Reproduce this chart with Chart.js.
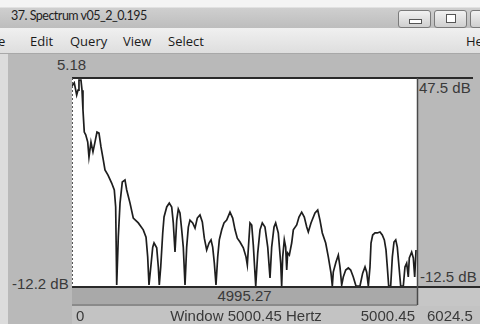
<!DOCTYPE html>
<html>
<head>
<meta charset="utf-8">
<script src="https://cdn.jsdelivr.net/npm/chart.js@4/dist/chart.umd.min.js"></script>
<style>
  html, body { margin: 0; padding: 0; }
  body { width: 480px; height: 324px; position: relative; overflow: hidden; background: #b9b9b9;
         font-family: "Liberation Sans", Arial, sans-serif; }
  .abs { position: absolute; white-space: nowrap; }
  #edge { left: 0; top: 0; width: 8px; height: 324px; background: #dcdcdc; }
  #titlebar { left: 0; top: 0; width: 480px; height: 28px;
              background: linear-gradient(#f4f4f4 0px, #f4f4f4 7px, #cfcfcf 8px, #bdbdbd 28px); }
  #title { left: 11px; top: 8px; font: 12.5px Lato, sans-serif; letter-spacing: -0.5px; color: #1e1e1e; }
  .btn { top: 10px; height: 16px; border: 1px solid #7a7a7a; border-radius: 3px;
         background: linear-gradient(#f2f2f2, #cfcfcf); }
  #menubar { left: 0; top: 28px; width: 480px; height: 25px;
             background: linear-gradient(#f0f0f0, #dedede); border-bottom: 1px solid #a8a8a8; }
  .menu { top: 32px; font: 13px "Open Sans", sans-serif; color: #1a1a1a; }
  .lbl { font-size: 15px; color: #3a3a3a; }
  #bar { left: 72px; top: 288px; width: 345px; height: 16px; background: #a9a9a9;
         border-bottom: 2px solid #8a8a8a; }
  #lowstrip { left: 72px; top: 306px; width: 408px; height: 18px; background: #c3c3c3; }
  #rightlow { left: 418px; top: 288px; width: 62px; height: 18px; background: #c6c6c6; }
  canvas { position: absolute; left: 0; top: 0; z-index: 2; }
</style>
</head>
<body>
<div class="abs" id="edge"></div>
<div class="abs" id="titlebar"></div>
<div class="abs" id="title">37. Spectrum v05_2_0.195</div>
<div class="abs btn" style="left:398px;width:31px;"><div class="abs" style="left:10px;top:8px;width:11px;height:3px;border:1px solid #555;background:#fff;"></div></div>
<div class="abs btn" style="left:434px;width:31px;"><div class="abs" style="left:11px;top:3px;width:8px;height:7px;border:1px solid #555;background:#fff;"></div></div>
<div class="abs btn" style="left:470px;width:20px;"></div>
<div class="abs" id="menubar"></div>
<div class="abs menu" style="left:-2px;">e</div>
<div class="abs menu" style="left:30px;">Edit</div>
<div class="abs menu" style="left:70px;">Query</div>
<div class="abs menu" style="left:123px;">View</div>
<div class="abs menu" style="left:168px;">Select</div>
<div class="abs menu" style="left:466px;">He</div>

<div class="abs" id="rightlow"></div>
<div class="abs" id="bar"></div>
<div class="abs" id="lowstrip"></div>

<div class="abs lbl" style="left:57px;top:56px;">5.18</div>
<div class="abs lbl" style="left:419px;top:79px;">47.5 dB</div>
<div class="abs lbl" style="left:12px;top:275px;">-12.2 dB</div>
<div class="abs lbl" style="left:420px;top:268px;">-12.5 dB</div>
<div class="abs lbl" style="left:72px;top:287px;width:345px;text-align:center;">4995.27</div>
<div class="abs lbl" style="left:76px;top:307px;z-index:3;">0</div>
<div class="abs lbl" style="left:72px;top:307px;width:348px;text-align:center;z-index:3;">Window 5000.45 Hertz</div>
<div class="abs lbl" style="left:300px;top:307px;width:115px;text-align:right;z-index:3;">5000.45</div>
<div class="abs lbl" style="left:427px;top:307px;z-index:3;">6024.5</div>

<canvas id="c" width="480" height="324"></canvas>

<script>
// Frequency axis (Hz) and measured level (dB) of the spectrum trace
const freqHz = [0, 33, 68, 87, 101, 130, 145, 159, 178, 199, 228, 246, 275, 304, 333, 362, 391, 420, 454, 478,
  522, 575, 613, 633, 648, 671, 696, 729, 768, 793, 841, 888, 961, 1033, 1073, 1097, 1116, 1145, 1170, 1189,
  1228, 1251, 1265, 1286, 1315, 1334, 1373, 1410, 1445, 1468, 1493, 1518, 1541, 1565, 1590, 1613, 1638, 1662, 1686, 1710,
  1749, 1783, 1816, 1855, 1889, 1918, 1952, 1986, 2015, 2039, 2063, 2087, 2112, 2135, 2170, 2203, 2242, 2290, 2329, 2363,
  2396, 2435, 2483, 2522, 2541, 2561, 2580, 2605, 2628, 2663, 2692, 2725, 2758, 2797, 2837, 2870, 2894, 2928, 2952, 2990,
  3025, 3039, 3054, 3077, 3097, 3112, 3126, 3150, 3184, 3208, 3257, 3290, 3329, 3367, 3402, 3425, 3464, 3522, 3561, 3594,
  3628, 3677, 3715, 3754, 3773, 3787, 3826, 3860, 3884, 3909, 3932, 3967, 4005, 4039, 4077, 4116, 4174, 4213, 4247, 4271,
  4295, 4319, 4334, 4358, 4392, 4425, 4464, 4497, 4527, 4551, 4570, 4590, 4619, 4643, 4667, 4692, 4715, 4740, 4764, 4802,
  4826, 4851, 4874, 4889, 4923, 4947, 4967, 4986, 5000];
const levelDb = [45.2, 46.1, 42.6, 44.0, 46.9, 46.9, 44.0, 38.3, 31.9, 31.1, 29.0, 24.7, 29.0, 26.2, 29.0, 31.9, 31.6, 27.6, 23.8, 21.0,
  19.5, 17.2, 15.2, 10.3, -12.2, 1.6, 11.4, 17.5, 18.1, 15.2, 11.4, 7.1, 5.7, 3.7, 1.6, -4.1, -12.2, -6.4, -1.3, -0.1,
  -1.5, -7.0, -12.2, -7.0, 2.8, 7.4, 10.3, 11.4, 10.3, 5.7, -2.7, 6.5, 9.7, 8.6, 3.7, -1.3, -12.2, -1.3, 4.5, 6.5,
  5.7, 4.2, 7.1, 8.0, 6.0, 1.3, -2.1, -0.1, 0.8, -1.3, -5.9, -12.2, -4.1, 0.8, 3.7, 5.7, 6.5, 8.8, 7.1, 3.7,
  1.3, 0.2, -1.5, -4.1, -6.4, -0.1, 5.7, 5.1, -0.7, -12.5, -3.0, 3.7, 5.7, 4.5, -1.3, -10.2, -1.3, 4.5, 5.7, 2.8,
  -5.9, -12.5, -4.1, 0.8, -1.3, -7.9, -3.0, -3.6, -0.1, 3.7, 5.1, 7.4, 8.8, 7.4, 4.5, 3.1, 5.7, 8.6, 9.4, 6.5,
  2.8, -0.1, -4.1, -8.8, -12.5, -8.5, -5.6, -3.6, -7.0, -12.2, -9.9, -7.9, -7.3, -7.9, -9.9, -12.5, -12.5, -8.8, -7.0, -8.5,
  -12.5, -7.0, -0.1, 2.2, 2.8, 2.8, 3.1, 2.2, 0.8, -2.1, -7.0, -12.5, -12.5, -4.1, 0.2, 0.8, -1.3, -7.0, -12.5, -12.5,
  -7.0, -5.9, -9.9, -4.4, -2.7, -4.4, -9.9, -2.1, -2.1];

const windowHz = 5000.45;
const dbRange = [-12.5, 47.5];

const points = freqHz.map((f, i) => ({ x: f, y: levelDb[i] }));

// White plot background and the panel frame (dashed left edge, solid top/right/bottom)
const framePlugin = {
  id: 'frame',
  beforeDraw(chart) {
    const { ctx, chartArea: a } = chart;
    ctx.save();
    ctx.fillStyle = '#ffffff';
    ctx.fillRect(a.left, a.top, a.right - a.left, a.bottom - a.top);
    ctx.restore();
  },
  afterDraw(chart) {
    const { ctx, chartArea: a } = chart;
    ctx.save();
    ctx.strokeStyle = '#2a2a2a';
    ctx.lineWidth = 2;
    ctx.beginPath();
    ctx.moveTo(a.left, a.top); ctx.lineTo(473, a.top);
    ctx.moveTo(a.left, a.bottom + 1); ctx.lineTo(480, a.bottom + 1);
    ctx.stroke();
    ctx.strokeStyle = '#4a4a4a';
    ctx.lineWidth = 1.5;
    ctx.beginPath();
    ctx.moveTo(a.right + 0.5, a.top); ctx.lineTo(a.right + 0.5, 305);
    ctx.stroke();
    ctx.strokeStyle = '#555';
    ctx.lineWidth = 1;
    ctx.setLineDash([2, 2]);
    ctx.beginPath();
    ctx.moveTo(a.left + 0.5, a.top); ctx.lineTo(a.left + 0.5, a.bottom);
    ctx.stroke();
    ctx.restore();
  }
};

new Chart(document.getElementById('c'), {
  type: 'line',
  data: {
    datasets: [{
      data: points,
      borderColor: '#1e1e1e',
      borderWidth: 1.7,
      pointRadius: 0,
      tension: 0,
      fill: false
    }]
  },
  options: {
    responsive: false,
    animation: false,
    devicePixelRatio: 1,
    layout: { padding: { left: 72, top: 78, right: 63, bottom: 38 } },
    scales: {
      x: { type: 'linear', min: 0, max: windowHz, display: false },
      y: { type: 'linear', min: dbRange[0], max: dbRange[1], display: false }
    },
    plugins: { legend: { display: false }, tooltip: { enabled: false } }
  },
  plugins: [framePlugin]
});
</script>
</body>
</html>
